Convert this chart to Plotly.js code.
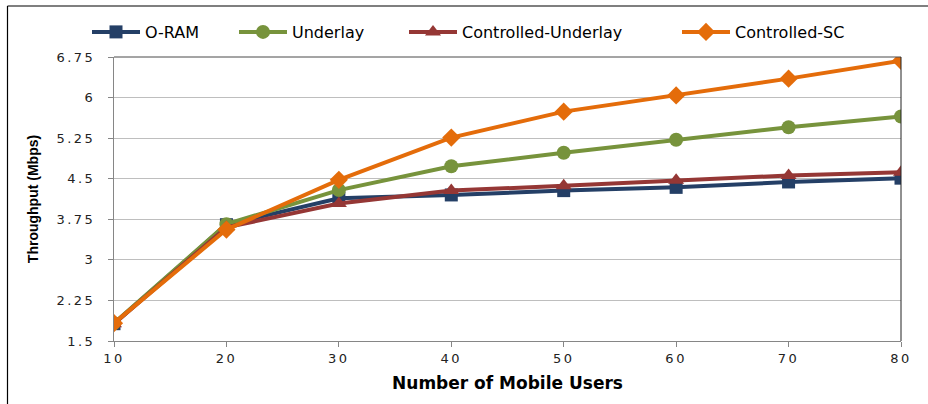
<!DOCTYPE html>
<html>
<head>
<meta charset="utf-8">
<script src="https://cdn.plot.ly/plotly-3.0.1.min.js"></script>
<style>
  html, body { margin: 0; padding: 0; background: #fff; }
  #chart { width: 928px; height: 404px; }
  .xtick text, .ytick text { letter-spacing: 2.5px; }
</style>
</head>
<body>
<div id="chart"></div>
<script>
const users = [10, 20, 30, 40, 50, 60, 70, 80];
const oram = [1.82, 3.65, 4.14, 4.20, 4.28, 4.34, 4.44, 4.51];
const underlay = [1.83, 3.66, 4.29, 4.73, 4.98, 5.22, 5.45, 5.65];
const controlledUnderlay = [1.82, 3.60, 4.04, 4.28, 4.37, 4.47, 4.56, 4.62];
const controlledSC = [1.83, 3.56, 4.48, 5.26, 5.74, 6.04, 6.35, 6.68];
const yTicks = [1.5, 2.25, 3, 3.75, 4.5, 5.25, 6, 6.75];
const yTickText = ['1.5', '2.25', '3', '3.75', '4.5', '5.25', '6', '6.75'];

const seriesNames = ['O-RAM', 'Underlay', 'Controlled-Underlay', 'Controlled-SC'];
const seriesData = [oram, underlay, controlledUnderlay, controlledSC];
const colors = ['#243F66', '#77933C', '#953735', '#E46C0A'];
const symbols = ['square', 'circle', 'triangle-up', 'diamond'];
const sizes = [13, 14, 14, 14];
const legendIds = ['legend', 'legend2', 'legend3', 'legend4'];

const traces = seriesNames.map((name, i) => ({
  x: users,
  y: seriesData[i],
  name: name,
  type: 'scatter',
  mode: 'lines+markers',
  line: { color: colors[i], width: 4 },
  marker: { color: colors[i], symbol: symbols[i], size: sizes[i] },
  legend: legendIds[i]
}));

const L = 114, R = 27, T = 57, B = 63, W = 928, H = 404;
const pw = W - L - R, ph = H - T - B;
const px = v => (v - L) / pw;
const py = v => 1 + (T - v) / ph;

const legendStarts = [93, 240, 410, 683];
const legendFont = { family: 'DejaVu Sans', size: 16, color: '#000' };
const legends = {};
legendIds.forEach((id, i) => {
  legends[id] = {
    x: px(legendStarts[i] - 6), xanchor: 'left',
    y: py(32), yanchor: 'middle',
    orientation: 'h',
    font: legendFont,
    bgcolor: 'rgba(0,0,0,0)',
    borderwidth: 0,
    itemwidth: 48,
    traceorder: 'normal'
  };
});

const layout = Object.assign({
  width: W, height: H,
  margin: { l: L, r: R, t: T, b: B, pad: 0 },
  paper_bgcolor: '#ffffff',
  plot_bgcolor: '#ffffff',
  showlegend: true,
  xaxis: {
    range: [10, 80],
    tickvals: users,
    ticktext: users.map(String),
    showgrid: false,
    zeroline: false,
    showline: true,
    linecolor: '#868686',
    linewidth: 1,
    ticks: 'outside',
    ticklen: 5,
    tickcolor: '#868686',
    tickfont: { family: 'DejaVu Sans', size: 13, color: '#222' },
    title: { text: 'Number of Mobile Users', font: { family: 'DejaVu Sans', size: 17, color: '#000', weight: 'bold' }, standoff: 12 }
  },
  yaxis: {
    range: [1.5, 6.75],
    tickvals: yTicks,
    ticktext: yTickText,
    showgrid: true,
    gridcolor: '#BEBEBE',
    gridwidth: 1,
    zeroline: false,
    showline: true,
    linecolor: '#868686',
    linewidth: 1,
    ticks: 'outside',
    ticklen: 5,
    tickcolor: '#868686',
    ticklabelstandoff: 10,
    tickfont: { family: 'DejaVu Sans', size: 13, color: '#222' },
    title: { text: 'Throughput (Mbps)', font: { family: 'Liberation Sans', size: 14, color: '#000', weight: 'bold' }, standoff: 14 }
  },
  shapes: [
    { type: 'line', xref: 'paper', yref: 'paper', x0: 0, x1: 1, y0: 1, y1: 1, line: { color: '#4a4a4a', width: 1 } },
    { type: 'line', xref: 'paper', yref: 'paper', x0: 1, x1: 1, y0: 0, y1: 1, line: { color: '#222', width: 1 } },
    { type: 'line', xref: 'paper', yref: 'paper', x0: px(7.5), x1: px(7.5), y0: py(6), y1: py(410), line: { color: '#000', width: 1.2 } },
    { type: 'line', xref: 'paper', yref: 'paper', x0: px(7.5), x1: px(935), y0: py(6), y1: py(6), line: { color: '#000', width: 1.2 } }
  ]
}, legends);

Plotly.newPlot('chart', traces, layout, { displayModeBar: false, staticPlot: true });
</script>
</body>
</html>
